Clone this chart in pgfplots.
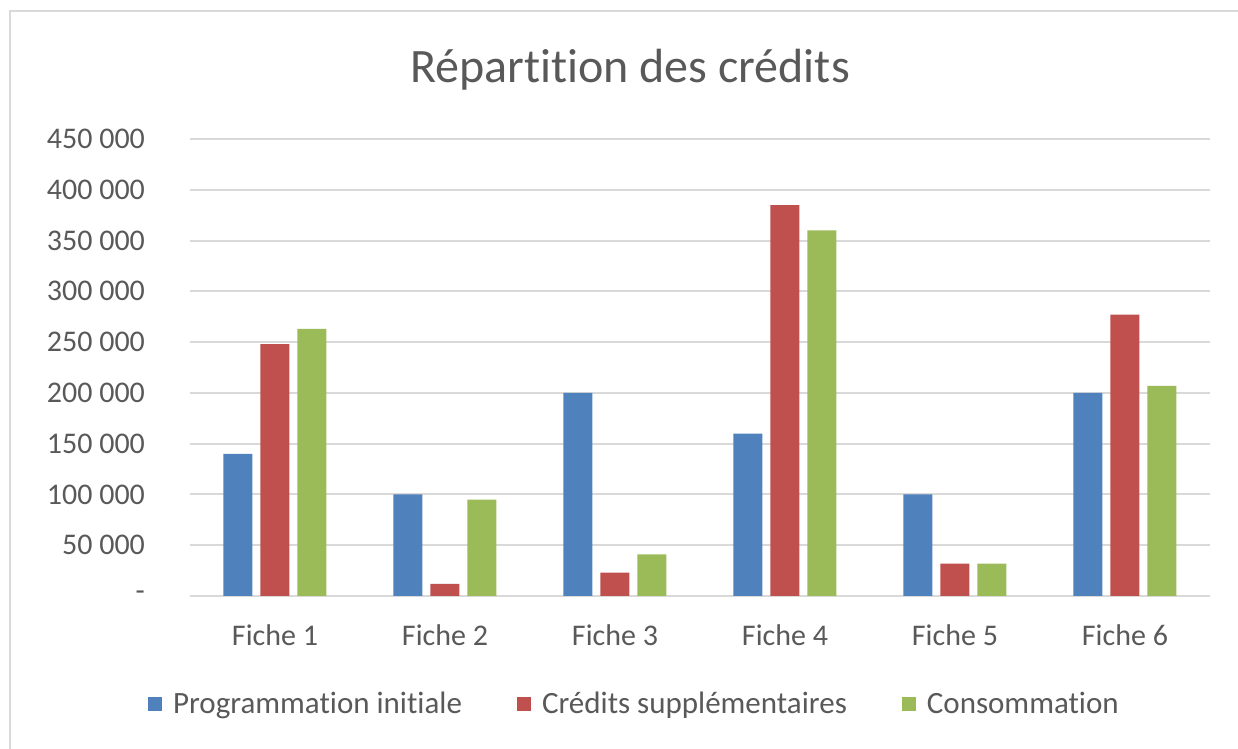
\documentclass[border=0pt]{standalone}
\usepackage{pgfplots}
\pgfplotsset{compat=1.18}
\usepackage{fontspec}
\setmainfont{Carlito}[Ligatures=NoCommon]
\definecolor{txtgray}{HTML}{595959}
\definecolor{gridgray}{HTML}{D9D9D9}
\definecolor{cblue}{HTML}{4F81BD}
\definecolor{cred}{HTML}{C0504D}
\definecolor{cgreen}{HTML}{9BBB59}
\begin{document}
\begin{tikzpicture}
\path[use as bounding box] (-95pt,-76.5pt) rectangle (524pt,298pt);
\draw[gridgray, line width=1pt] (-90pt,-80pt) -- (-90pt,292.5pt) -- (530pt,292.5pt);
\node[text=txtgray, font=\fontsize{24}{28}\selectfont] at (220pt,263pt) {Répartition des crédits};
\begin{axis}[
  scale only axis,
  width=510pt, height=228.5pt,
  ybar=4pt, bar width=14.5pt,
  xmin=-0.5, xmax=5.5,
  ymin=0, ymax=450000,
  scaled y ticks=false,
  xtick=data,
  xticklabels={Fiche 1,Fiche 2,Fiche 3,Fiche 4,Fiche 5,Fiche 6},
  ytick={0,50000,100000,150000,200000,250000,300000,350000,400000,450000},
  yticklabels={-\hspace{8pt},50 000,100 000,150 000,200 000,250 000,300 000,350 000,400 000,450 000},
  /pgf/number format/assume math mode=true,
  axis line style={draw=none},
  major tick length=0pt,
  ymajorgrids,
  grid style={gridgray, line width=1pt},
  ticklabel style={font=\fontsize{15}{18}\selectfont, text=txtgray},
  yticklabel style={xshift=-19pt},
  xticklabel style={yshift=-11pt},
  legend style={draw=none, at={(0.4372,-0.236)}, anchor=center,
    font=\fontsize{15.5}{18}\selectfont, text=txtgray,
    /tikz/every odd column/.append style={column sep=3pt},
    /tikz/every even column/.append style={column sep=25pt},
    nodes={inner sep=2.5pt}},
  legend columns=3,
  legend image code/.code={\fill[#1] (0pt,-3.5pt) rectangle (7pt,3.5pt);},
]
\addplot[fill=cblue, draw=none] coordinates {(0,140000) (1,100000) (2,200000) (3,160000) (4,100000) (5,200000)};
\addplot[fill=cred, draw=none] coordinates {(0,248000) (1,12000) (2,23000) (3,385000) (4,32000) (5,277000)};
\addplot[fill=cgreen, draw=none] coordinates {(0,263000) (1,95000) (2,41000) (3,360000) (4,32000) (5,207000)};
\legend{Programmation initiale, Crédits supplémentaires, Consommation}
\end{axis}
\end{tikzpicture}
\end{document}
